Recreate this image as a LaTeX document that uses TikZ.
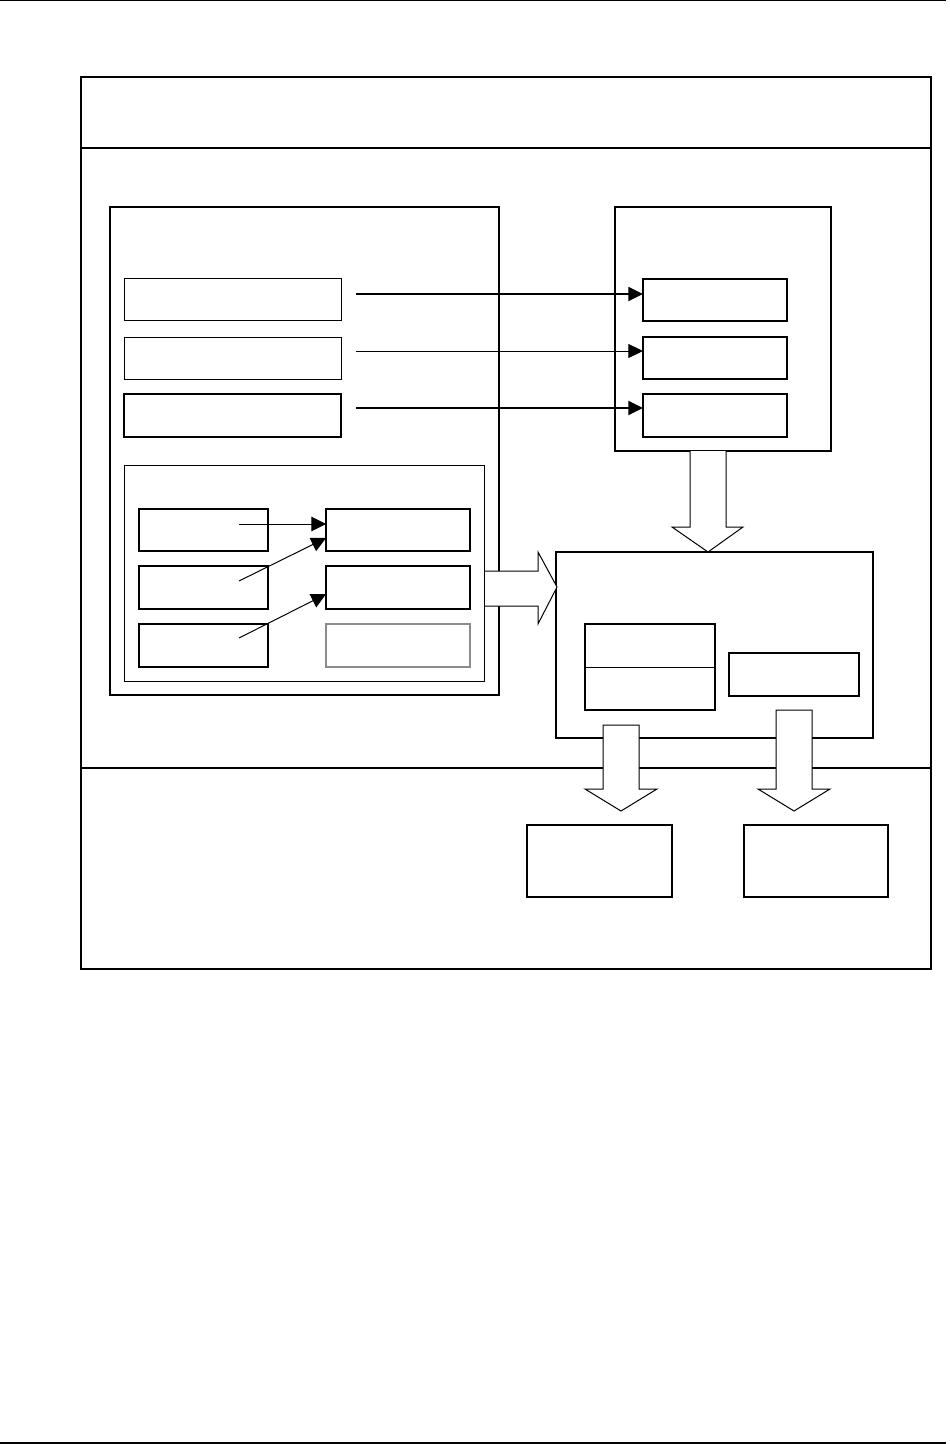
\documentclass[tikz,border=0pt]{standalone}
\usetikzlibrary{fit,arrows.meta}
\begin{document}
\begin{tikzpicture}[x=0.75pt,y=-0.75pt,
  thinbox/.style={draw=black,line width=0.75pt,inner sep=0pt,outer sep=0pt,fill=none},
  midbox/.style={draw=black,line width=1.1pt,inner sep=0pt,outer sep=0pt},
  thickbox/.style={draw=black,line width=1.5pt,inner sep=0pt,outer sep=0pt},
  graybox/.style={draw=black!45,line width=1.5pt,inner sep=0pt,outer sep=0pt},
  bigarr/.style={line width=1.5pt,-{Triangle[length=11pt,width=10.5pt]}},
  bigarrthin/.style={line width=0.75pt,-{Triangle[length=11pt,width=10.5pt]}},
  smallarr/.style={line width=0.75pt,-{Triangle[length=11pt,width=11pt]}},
  blockarr/.style={draw=black,fill=white,line width=0.75pt,line join=miter}]
\useasboundingbox (0,0) rectangle (949,1444);
% page rules
\draw[line width=0.75pt] (0,1) -- (946,1);
\draw[line width=1.5pt] (0,1442.5) -- (946,1442.5);
% outer frame
\node[thickbox,fit={(81,77)(931,969)}] (outer) {};
\draw[line width=1.5pt] (81,148) -- (931,148);
\draw[line width=1.5pt] (81,768) -- (931,768);
% left big box
\node[thickbox,fit={(110,207)(499,695)}] (left) {};
\node[thinbox,fit={(124,279)(341,321)}] (a1) {};
\node[thinbox,fit={(124,337)(341,379)}] (a2) {};
\node[midbox,fit={(124,394)(341,437)}] (a3) {};
% right top box
\node[midbox,fit={(615,207)(831,451)}] (right) {};
\node[thickbox,fit={(643,279)(787,321)}] (d1) {};
\node[thickbox,fit={(643,337)(787,379)}] (d2) {};
\node[thickbox,fit={(643,394)(787,437)}] (d3) {};
% horizontal arrows
\coordinate (s1) at (356,294);
\coordinate (s2) at (356,351);
\coordinate (s3) at (356,408);
\draw[bigarr] (s1) -- (s1 -| d1.west);
\draw[bigarrthin] (s2) -- (s2 -| d2.west);
\draw[bigarr] (s3) -- (s3 -| d3.west);
% inner box
\node[thinbox,fit={(124,465)(484,681)}] (inner) {};
\node[thickbox,fit={(139,509)(268,551)}] (b1) {};
\node[thickbox,fit={(139,566)(268,609)}] (b2) {};
\node[thickbox,fit={(139,624)(268,667)}] (b3) {};
\node[thickbox,fit={(326,509)(470,551)}] (c1) {};
\node[thickbox,fit={(326,566)(470,609)}] (c2) {};
\node[graybox,fit={(326,624)(470,667)}] (c3) {};
\coordinate (t1) at (239,524);
\coordinate (t2) at (239,581);
\coordinate (t3) at (239,638);
\draw[smallarr] (t1) -- (t1 -| c1.west);
\draw[smallarr] (t2) -- ([yshift=-6pt]c1.west);
\draw[smallarr] (t3) -- ([yshift=-5pt]c2.west);
% middle box
\node[midbox,fit={(556,552)(873,738)}] (mid) {};
\node[midbox,fit={(585,624)(715,710)}] (split) {};
\draw[line width=0.75pt] (split.west |- {(0,667.5)}) -- (split.east |- {(0,667.5)});
\node[thickbox,fit={(729,653)(859,696)}] (rbox) {};
% bottom boxes
\node[thickbox,fit={(527,825)(672,897)}] (o1) {};
\node[thickbox,fit={(744,825)(888,897)}] (o2) {};
% block arrows
\draw[blockarr] (485,571) -- (538,571) -- (538,552) -- (557,587) -- (538,624) -- (538,606) -- (485,606);
\draw[blockarr] (690,451) -- (690,527) -- (672,527) -- (708,552) -- (743,527) -- (726,527) -- (726,451);
\draw[blockarr] (603,725) -- (639,725) -- (639,789) -- (657,789) -- (621,811) -- (585,789) -- (603,789) -- cycle;
\draw[blockarr] (776,710) -- (812,710) -- (812,789) -- (830,789) -- (794,811) -- (758,789) -- (776,789) -- cycle;
\end{tikzpicture}
\end{document}
